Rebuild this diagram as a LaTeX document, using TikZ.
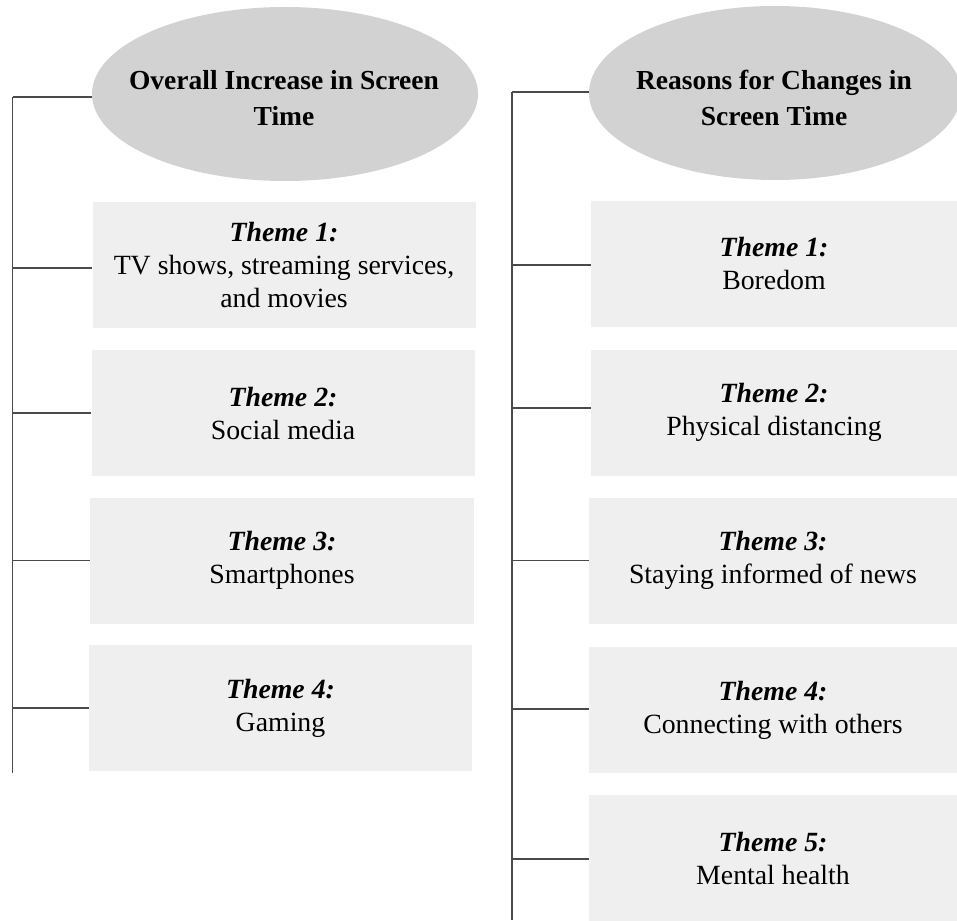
\documentclass[tikz,border=0pt]{standalone}
\usepackage{fontspec}
\setmainfont{Liberation Serif}
\usetikzlibrary{shapes.geometric}
\definecolor{ellgray}{HTML}{D2D2D2}
\definecolor{boxgray}{HTML}{EFEFEF}
\definecolor{linegray}{HTML}{4A4A4A}
\begin{document}
\begin{tikzpicture}[x=1pt,y=-1pt,
  titleell/.style={ellipse,fill=ellgray,inner sep=0pt,minimum width=#1,minimum height=174pt},
  titletext/.style={inner sep=0pt,align=center,font=\fontsize{27.5}{36}\selectfont\bfseries},
  themebox/.style={rectangle,fill=boxgray,inner sep=0pt,minimum height=126pt,minimum width=#1,
    align=center,font=\fontsize{27.8}{33}\selectfont},
  conn/.style={draw=linegray,line width=1.1pt},
  bus/.style={draw=linegray,line width=1.8pt}]
\useasboundingbox (0,0) rectangle (957,920);

% left column
\node[titleell=386pt] (e1) at (285,94) {};
\node[titletext] (t1) at (284,98) {Overall Increase in Screen\\Time};
\node[themebox=383pt] (l1) at (284,264.5) {\textbf{\textit{Theme 1:}}\\TV shows, streaming services,\\and movies};
\node[themebox=383pt] (l2) at (283,413) {\textbf{\textit{Theme 2:}}\\Social media};
\node[themebox=384pt] (l3) at (282,560.5) {\textbf{\textit{Theme 3:}}\\Smartphones};
\node[themebox=383pt] (l4) at (280.5,708) {\textbf{\textit{Theme 4:}}\\Gaming};

\coordinate (lb1) at (12.5,97);
\coordinate (lb2) at (12.5,773);
\draw[bus] (lb1) -- (lb2);
\draw[conn] (lb1) -- (e1.west |- lb1);
\draw[conn] (l1.west |- 0,268) -- (lb1 |- 0,268);
\draw[conn] (l2.west) -- (lb1 |- l2.west);
\draw[conn] (l3.west) -- (lb1 |- l3.west);
\draw[conn] (l4.west) -- (lb1 |- l4.west);

% right column
\node[titleell=372pt] (e2) at (775,93) {};
\node[titletext] (t2) at (774,98) {Reasons for Changes in\\Screen Time};
\node[themebox=366pt] (r1) at (774,263.5) {\textbf{\textit{Theme 1:}}\\Boredom};
\node[themebox=366pt] (r2) at (774,412.5) {\textbf{\textit{Theme 2:}}\\Physical distancing};
\node[themebox=368pt] (r3) at (773,560.5) {\textbf{\textit{Theme 3:}}\\Staying informed of news};
\node[themebox=368pt] (r4) at (773,710) {\textbf{\textit{Theme 4:}}\\Connecting with others};
\node[themebox=368pt] (r5) at (773,858) {\textbf{\textit{Theme 5:}}\\Mental health};

\coordinate (rb1) at (512,92);
\coordinate (rb2) at (512,920);
\draw[conn] (rb1) -- (rb2);
\draw[conn] (rb1) -- (e2.west |- rb1);
\draw[conn] (r1.west |- 0,265) -- (rb1 |- 0,265);
\draw[conn,line width=1.4pt] (r2.west |- 0,408) -- (rb1 |- 0,408);
\draw[conn] (r3.west) -- (rb1 |- r3.west);
\draw[conn,line width=1.4pt] (r4.west |- 0,709) -- (rb1 |- 0,709);
\draw[conn] (r5.west |- 0,859) -- (rb1 |- 0,859);
\end{tikzpicture}
\end{document}
